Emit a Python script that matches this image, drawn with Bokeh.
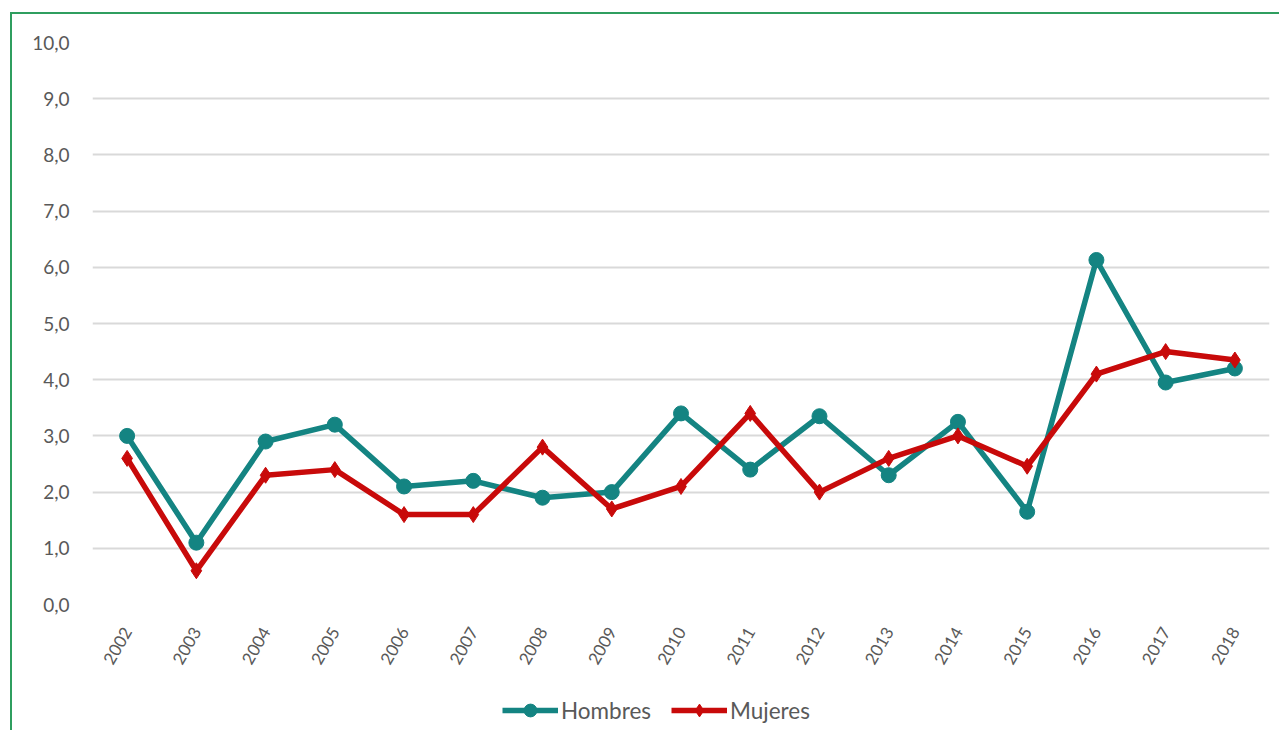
import math
from bokeh.plotting import figure
from bokeh.layouts import column
from bokeh.models import ColumnDataSource, FactorRange, Range1d, FixedTicker, Legend, LegendItem
from bokeh.embed import file_html
from bokeh.resources import INLINE

years = ["2002", "2003", "2004", "2005", "2006", "2007", "2008", "2009", "2010",
         "2011", "2012", "2013", "2014", "2015", "2016", "2017", "2018"]
hombres = [3.0, 1.1, 2.9, 3.2, 2.1, 2.2, 1.9, 2.0, 3.4, 2.4, 3.35, 2.3, 3.25, 1.65, 6.13, 3.95, 4.2]
mujeres = [2.6, 0.6, 2.3, 2.4, 1.6, 1.6, 2.8, 1.7, 2.1, 3.4, 2.0, 2.6, 3.0, 2.46, 4.1, 4.5, 4.35]
y_ticks = [0, 1, 2, 3, 4, 5, 6, 7, 8, 9, 10]
y_tick_labels = ["0,0", "1,0", "2,0", "3,0", "4,0", "5,0", "6,0", "7,0", "8,0", "9,0", "10,0"]
series_names = ["Hombres", "Mujeres"]

TEAL = "#148482"
RED = "#c80a0a"
GREEN = "#2f9e5f"
GREY_TXT = "#595959"
FONT = "Lato"

src = ColumnDataSource(dict(year=years, h=hombres, m=mujeres))

p = figure(frame_width=1175, frame_height=560, x_range=FactorRange(*years, range_padding=0),
           y_range=Range1d(0, 10), output_backend="svg", toolbar_location=None,
           min_border_left=80, min_border_top=28, min_border_right=12, min_border_bottom=128,
           background_fill_color="white", border_fill_color="white")
p.margin = (12, 0, 0, 10)
p.styles = {"border-left": f"2px solid {GREEN}", "border-top": f"2px solid {GREEN}"}
p.outline_line_color = None

p.xgrid.grid_line_color = None
p.ygrid.grid_line_color = "#d9d9d9"
p.ygrid.grid_line_width = 2

p.yaxis.ticker = FixedTicker(ticks=y_ticks)
p.yaxis.major_label_overrides = {t: l for t, l in zip(y_ticks, y_tick_labels)}
for ax in (p.xaxis, p.yaxis):
    ax.axis_line_color = None
    ax.major_tick_line_color = None
    ax.minor_tick_line_color = None
    ax.major_label_text_color = GREY_TXT
    ax.major_label_text_font = FONT
p.yaxis.major_label_text_font_size = "19px"
p.yaxis.major_label_standoff = 17
p.xaxis.major_label_text_font_size = "17px"
p.xaxis.major_label_orientation = math.pi / 3
p.xaxis.major_label_standoff = 18

p.line("year", "h", source=src, line_color=TEAL, line_width=5.5)
p.scatter("year", "h", source=src, marker="circle", size=15, fill_color=TEAL, line_color=TEAL)
p.line("year", "m", source=src, line_color=RED, line_width=5.5)
p.scatter("year", "m", source=src, marker="diamond", size=16, fill_color=RED, line_color=RED)

# legend strip, laid over the empty space under the x-axis labels
leg = figure(width=1267, height=40, x_range=Range1d(0, 1), y_range=Range1d(0, 1),
             output_backend="svg", toolbar_location=None, min_border=0,
             x_axis_location=None, y_axis_location=None)
leg.margin = (-44, 0, 0, 12)
leg.grid.visible = False
leg.outline_line_color = None
leg.background_fill_alpha = 0
leg.border_fill_alpha = 0
# proxy renderers that sit outside the strip's visible range (legend swatches only)
proxy = ColumnDataSource(dict(x=[-5], y=[-5]))
l1 = leg.line("x", "y", source=proxy, line_color=TEAL, line_width=5.5)
s1 = leg.scatter("x", "y", source=proxy, marker="circle", size=15, fill_color=TEAL, line_color=TEAL)
l2 = leg.line("x", "y", source=proxy, line_color=RED, line_width=5.5)
s2 = leg.scatter("x", "y", source=proxy, marker="diamond", size=16, fill_color=RED, line_color=RED)

legend = Legend(items=[LegendItem(label=series_names[0], renderers=[l1, s1]),
                       LegendItem(label=series_names[1], renderers=[l2, s2])],
                orientation="horizontal", location=(410, 0))
legend.border_line_color = None
legend.background_fill_alpha = 0
legend.label_text_font = FONT
legend.label_text_font_size = "22.5px"
legend.label_text_color = GREY_TXT
legend.glyph_width = 56
legend.glyph_height = 32
legend.label_standoff = 3
legend.spacing = 20
legend.margin = 0
legend.padding = 4
leg.add_layout(legend, "center")

layout = column(p, leg, spacing=0)
open("out.html", "w").write(file_html(layout, INLINE))
